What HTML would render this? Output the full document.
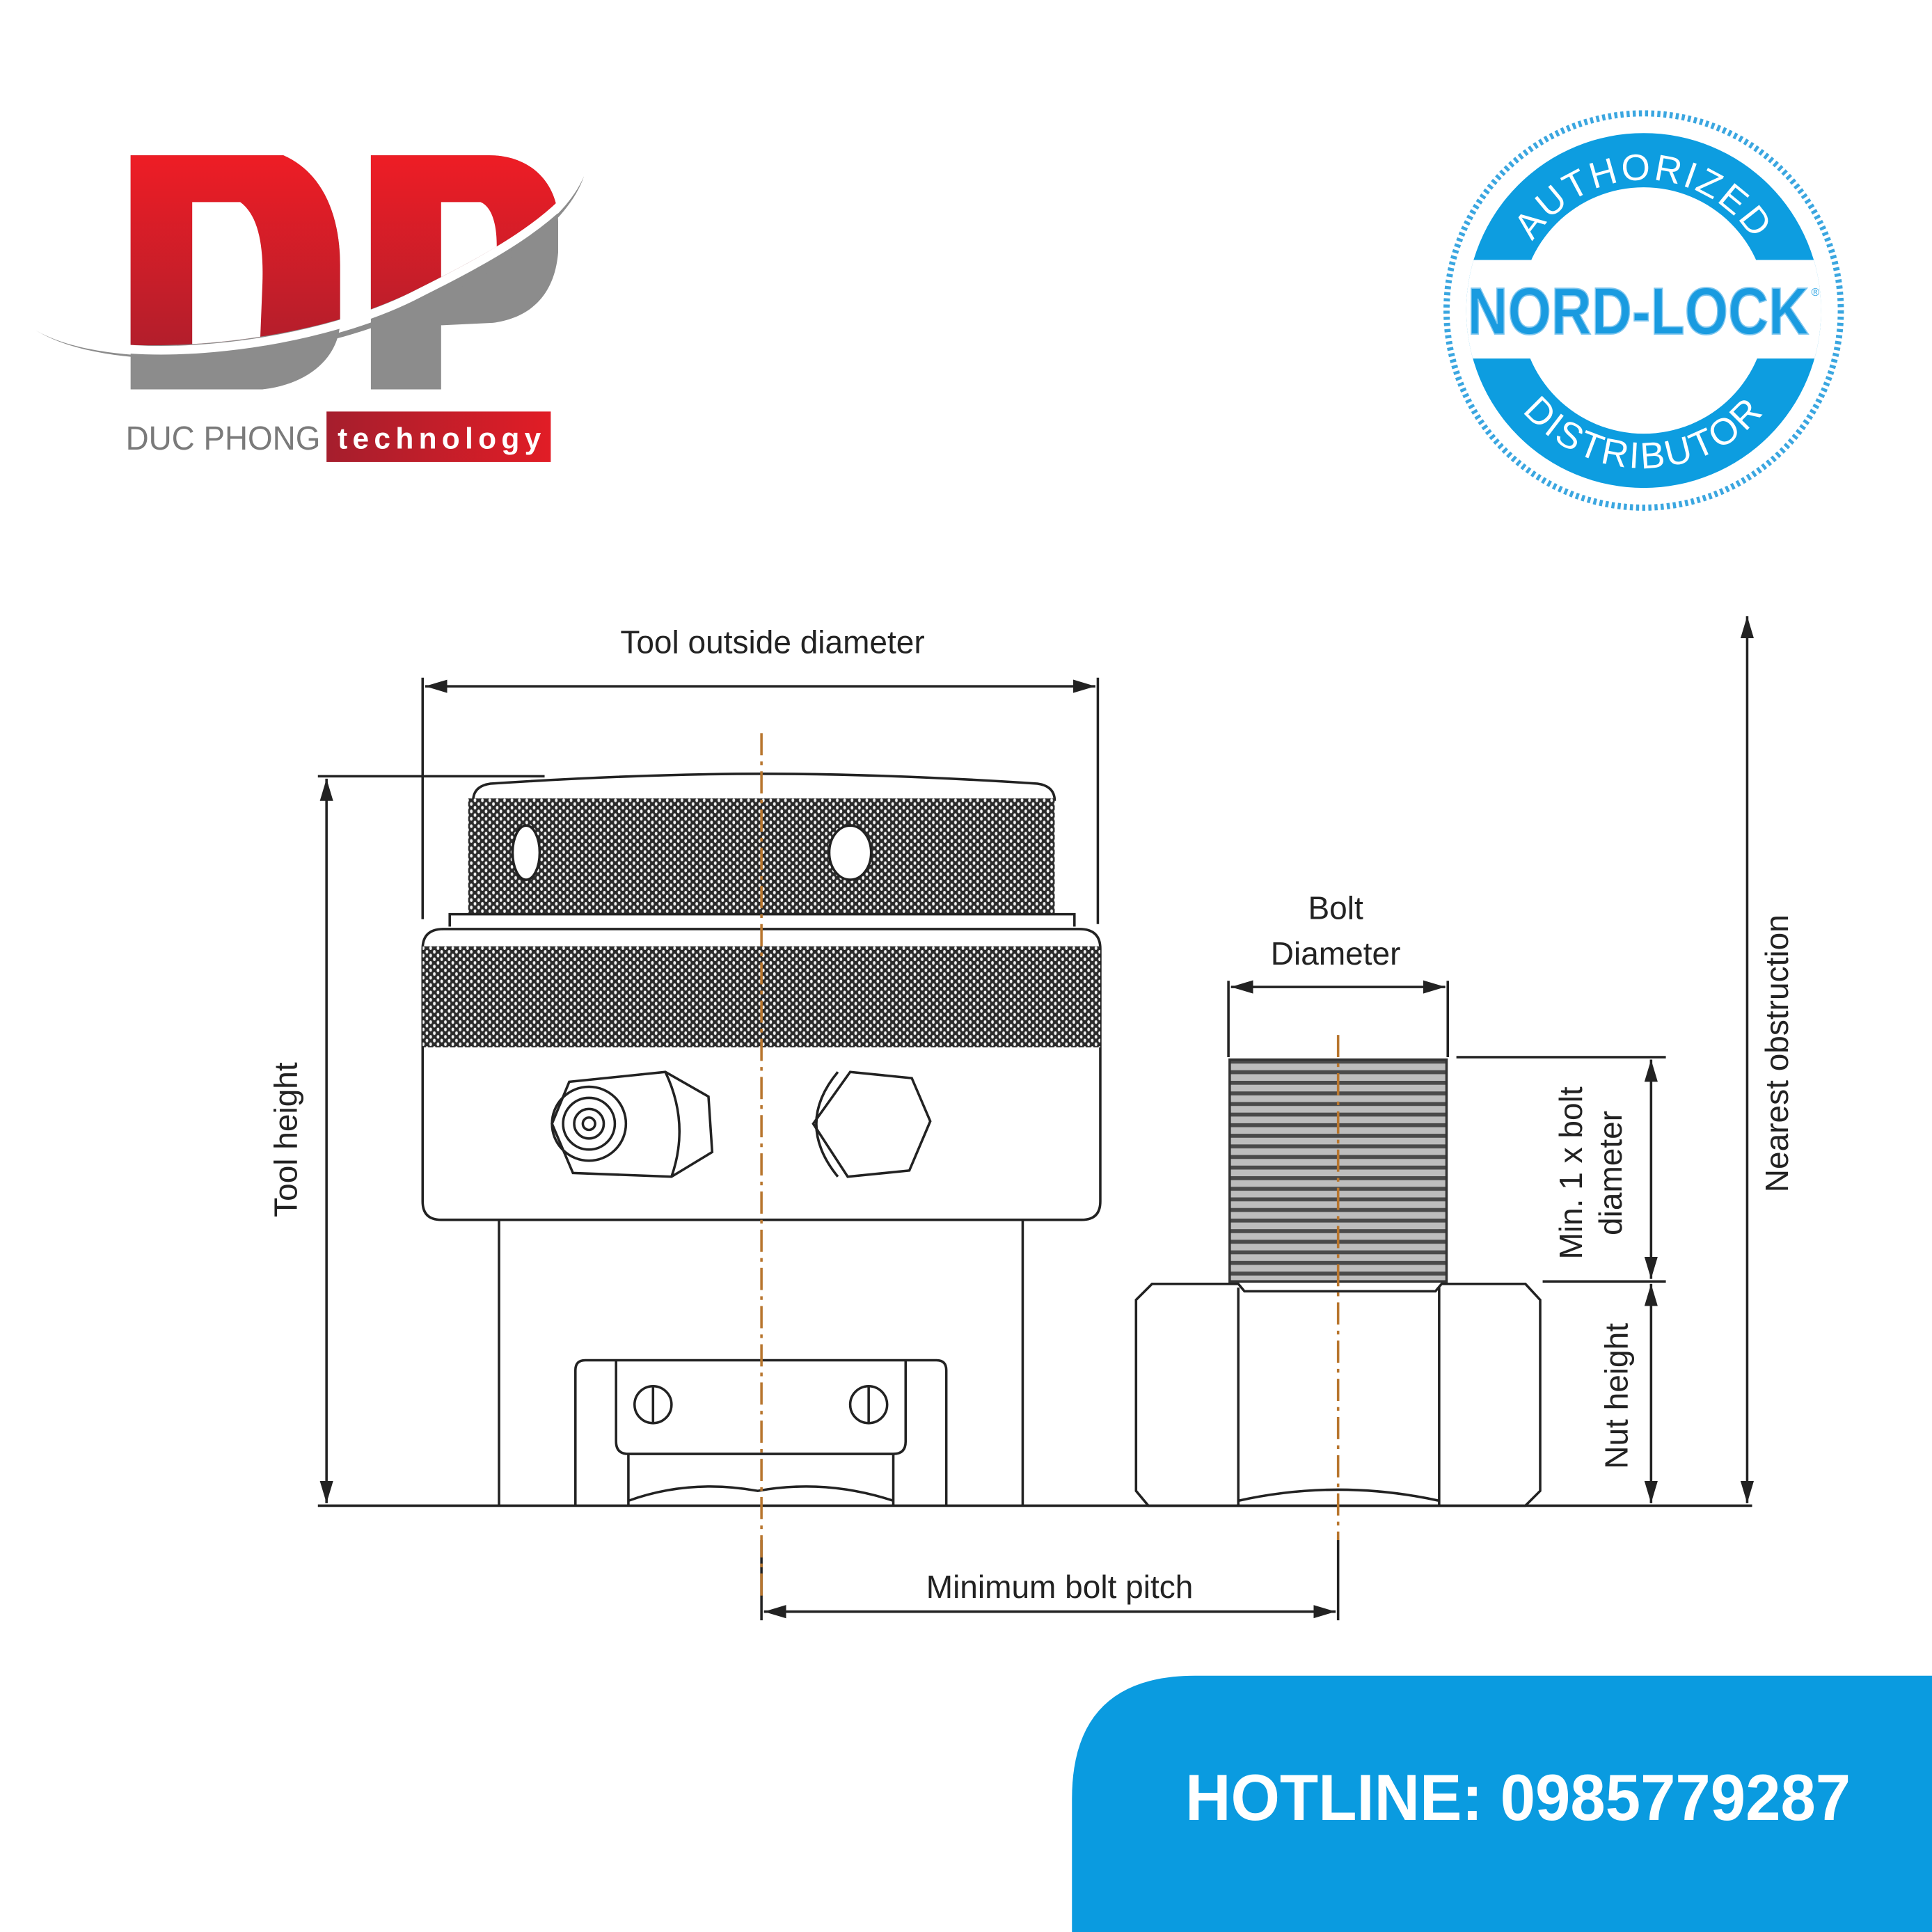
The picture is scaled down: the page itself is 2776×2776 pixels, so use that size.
<!DOCTYPE html>
<html><head><meta charset="utf-8"><style>
html,body{margin:0;padding:0;background:#fff;}
svg{display:block;}
text{font-family:"Liberation Sans",sans-serif;}
</style></head><body>
<svg width="2776" height="2776" viewBox="0 0 1568 1568" xmlns="http://www.w3.org/2000/svg">
<defs>
<pattern id="kn" width="6" height="6" patternUnits="userSpaceOnUse">
<rect width="6" height="6" fill="#2b2b2b"/>
<ellipse cx="1.5" cy="1.5" rx="1.1" ry="1.5" fill="#f2f2f2"/>
<ellipse cx="4.5" cy="4.5" rx="1.1" ry="1.5" fill="#f2f2f2"/>
</pattern>
<pattern id="th" width="10" height="8.6" patternUnits="userSpaceOnUse">
<rect width="10" height="8.6" fill="#bdbdbd"/>
<rect y="0" width="10" height="3.2" fill="#4a4a4a"/>
</pattern>
<linearGradient id="rd" x1="0" y1="0" x2="0" y2="1"><stop offset="0" stop-color="#ee1d25"/><stop offset="1" stop-color="#a51e2d"/></linearGradient>
<linearGradient id="rb" x1="0" y1="0" x2="1" y2="0"><stop offset="0" stop-color="#a51e2d"/><stop offset="1" stop-color="#e11d26"/></linearGradient>
<clipPath id="bc"><circle cx="1334" cy="252" r="144"/></clipPath>
<clipPath id="redc"><path d="M0,0 L0,261 C90,296 250,281 340,234 C400,204 450,176 475,139 L520,0 Z"/></clipPath>
<marker id="ar" viewBox="0 0 10 10" refX="10" refY="5" markerWidth="9" markerHeight="9" orient="auto-start-reverse"><path d="M0,2 L10,5 L0,8 z" fill="#222"/></marker>
<path id="arcT" d="M1228,252 A106,106 0 0 1 1440,252"/>
<path id="arcB" d="M1206,252 A128,128 0 0 0 1462,252"/>
</defs>

<!-- DP logo -->
<g>
<path d="M106,126 L230,126 C262,140 276,175 276,215 L276,260 C276,290 250,312 213,316 L106,316 Z" fill="#8c8c8c"/>
<path d="M301,126 L397,126 C432,126 453,150 453,180 L453,205 C450,240 430,258 400,262 L358,264 L358,316 L301,316 Z" fill="#8c8c8c"/>
<g clip-path="url(#redc)">
<path d="M106,126 L230,126 C262,140 276,175 276,215 L276,260 C276,290 250,312 213,316 L106,316 Z" fill="url(#rd)"/>
<path d="M301,126 L397,126 C432,126 453,150 453,180 L453,205 C450,240 430,258 400,262 L358,264 L358,316 L301,316 Z" fill="url(#rd)"/>
<path d="M156,164 L195,164 C210,175 214,200 213,230 L211,280 L156,290 Z" fill="#fff"/>
<path d="M358,164 L390,164 C400,168 404,185 403,204 L403,250 L358,260 Z" fill="#fff"/>
</g>
<path d="M29,265 C90,300 250,285 340,238 C400,208 450,180 475,143" fill="none" stroke="#fff" stroke-width="7"/>
<path d="M29,268 C90,304 250,292 340,245 C400,214 455,186 474,143 C460,184 405,220 340,250 C250,296 90,306 29,268 Z" fill="#8c8c8c"/>
</g>
<text x="102" y="365" font-size="27" fill="#7a7a7a" textLength="158" lengthAdjust="spacingAndGlyphs">DUC PHONG</text>
<rect x="265" y="334" width="182" height="41" fill="url(#rb)"/>
<text x="274" y="364" font-size="24" font-weight="bold" fill="#fff" textLength="165" lengthAdjust="spacing">technology</text>

<!-- Nord-Lock badge -->
<circle cx="1334" cy="252" r="160" fill="none" stroke="#3aa6e0" stroke-width="5" stroke-dasharray="2.5 2.5"/>
<circle cx="1334" cy="252" r="144" fill="#0d9de0"/>
<circle cx="1334" cy="252" r="100" fill="#fff"/>
<rect x="1180" y="211" width="310" height="80" fill="#fff" clip-path="url(#bc)"/>
<text font-size="30" fill="#fff" letter-spacing="2"><textPath href="#arcT" startOffset="50%" text-anchor="middle">AUTHORIZED</textPath></text>
<text font-size="30" fill="#fff" letter-spacing="2"><textPath href="#arcB" startOffset="50%" text-anchor="middle">DISTRIBUTOR</textPath></text>
<text x="1191" y="271" font-size="54" font-weight="bold" fill="#1a9be0" stroke="#7fc6ee" stroke-width="1" textLength="277" lengthAdjust="spacingAndGlyphs">NORD-LOCK</text>
<text x="1470" y="240" font-size="9" fill="#1a9be0">®</text>

<!-- drawing -->
<g stroke="#222" stroke-width="2" fill="none">
<line x1="258" y1="1222" x2="1422" y2="1222"/>
<path d="M384,650 Q384,638 398,636 Q520,628 620,628 Q720,628 842,636 Q856,638 856,650" fill="#fff"/>
<rect x="380" y="648" width="476" height="94" fill="url(#kn)" stroke="none"/>
<path d="M365,752 L365,742 L872,742 L872,752" fill="#fff"/>
<path d="M343,770 Q343,754 360,754 L876,754 Q893,754 893,770 L893,975 Q893,990 878,990 L358,990 Q343,990 343,975 Z" fill="#fff"/>
<rect x="343" y="768" width="550" height="82" fill="url(#kn)" stroke="none"/>
<line x1="405" y1="990" x2="405" y2="1222"/>
<line x1="830" y1="990" x2="830" y2="1222"/>
<path d="M467,1222 L467,1112 Q467,1104 475,1104 L760,1104 Q768,1104 768,1112 L768,1222"/>
<path d="M500,1104 L500,1170 Q500,1180 510,1180 L725,1180 Q735,1180 735,1170 L735,1104"/>
<path d="M510,1180 L510,1222 M725,1180 L725,1222"/>
<path d="M510,1218 Q560,1200 615,1210 Q670,1200 725,1218"/>
<circle cx="530" cy="1140" r="15"/><line x1="530" y1="1125" x2="530" y2="1155"/>
<circle cx="705" cy="1140" r="15"/><line x1="705" y1="1125" x2="705" y2="1155"/>
<path d="M448,912 L462,878 L540,870 L575,890 L578,935 L545,955 L465,952 Z" fill="#fff"/>
<path d="M540,870 Q560,912 545,955"/>
<circle cx="478" cy="912" r="30"/><circle cx="478" cy="912" r="21"/><circle cx="478" cy="912" r="12"/><circle cx="478" cy="912" r="5"/>
<path d="M690,870 L740,875 L755,910 L738,950 L688,955 L660,912 Z" fill="#fff"/>
<path d="M680,870 Q645,912 680,955"/>
<ellipse cx="427" cy="692" rx="11" ry="22" fill="#fff"/>
<ellipse cx="690" cy="692" rx="17" ry="22" fill="#fff"/>
<rect x="998" y="860" width="176" height="180" fill="url(#th)" stroke="#333" stroke-width="2"/>
<path d="M922,1055 L935,1042 L1005,1042 L1010,1048 L1165,1048 L1170,1042 L1238,1042 L1250,1055 L1250,1210 L1238,1222 L932,1222 L922,1210 Z" fill="#fff"/>
<line x1="1005" y1="1045" x2="1005" y2="1222"/><line x1="1168" y1="1045" x2="1168" y2="1222"/>
<path d="M1005,1218 Q1086,1200 1168,1218"/>
<line x1="343" y1="550" x2="343" y2="746"/><line x1="891" y1="550" x2="891" y2="750"/>
<line x1="345" y1="557" x2="889" y2="557" marker-start="url(#ar)" marker-end="url(#ar)"/>
<line x1="258" y1="630" x2="442" y2="630"/>
<line x1="265" y1="632" x2="265" y2="1220" marker-start="url(#ar)" marker-end="url(#ar)"/>
<line x1="997" y1="796" x2="997" y2="858"/><line x1="1175" y1="796" x2="1175" y2="858"/>
<line x1="999" y1="801" x2="1173" y2="801" marker-start="url(#ar)" marker-end="url(#ar)"/>
<line x1="1182" y1="858" x2="1352" y2="858"/><line x1="1252" y1="1040" x2="1352" y2="1040"/>
<line x1="1340" y1="860" x2="1340" y2="1038" marker-start="url(#ar)" marker-end="url(#ar)"/>
<line x1="1340" y1="1042" x2="1340" y2="1220" marker-start="url(#ar)" marker-end="url(#ar)"/>
<line x1="1418" y1="500" x2="1418" y2="1220" marker-start="url(#ar)" marker-end="url(#ar)"/>
<line x1="618" y1="1250" x2="618" y2="1315"/><line x1="1086" y1="1250" x2="1086" y2="1315"/>
<line x1="620" y1="1308" x2="1084" y2="1308" marker-start="url(#ar)" marker-end="url(#ar)"/>
</g>
<g stroke="#b8762e" stroke-width="2" stroke-dasharray="18 5 3 5" fill="none">
<line x1="618" y1="595" x2="618" y2="1300"/>
<line x1="1086" y1="840" x2="1086" y2="1250"/>
</g>
<g fill="#222" font-size="26">
<text x="627" y="530" text-anchor="middle">Tool outside diameter</text>
<text x="1084" y="746" text-anchor="middle">Bolt</text>
<text x="1084" y="783" text-anchor="middle">Diameter</text>
<text x="860" y="1297" text-anchor="middle">Minimum bolt pitch</text>
<text transform="translate(241,925) rotate(-90)" text-anchor="middle">Tool height</text>
<text transform="translate(1284,952) rotate(-90)" text-anchor="middle">Min. 1 x bolt</text>
<text transform="translate(1316,952) rotate(-90)" text-anchor="middle">diameter</text>
<text transform="translate(1321,1133) rotate(-90)" text-anchor="middle">Nut height</text>
<text transform="translate(1451,855) rotate(-90)" text-anchor="middle">Nearest obstruction</text>
</g>

<path d="M870,1568 L870,1460 Q870,1360 970,1360 L1568,1360 L1568,1568 Z" fill="#0a9be0"/>
<text x="962" y="1477" font-size="53" font-weight="bold" fill="#fff" textLength="540" lengthAdjust="spacingAndGlyphs">HOTLINE: 0985779287</text>
</svg>
</body></html>
